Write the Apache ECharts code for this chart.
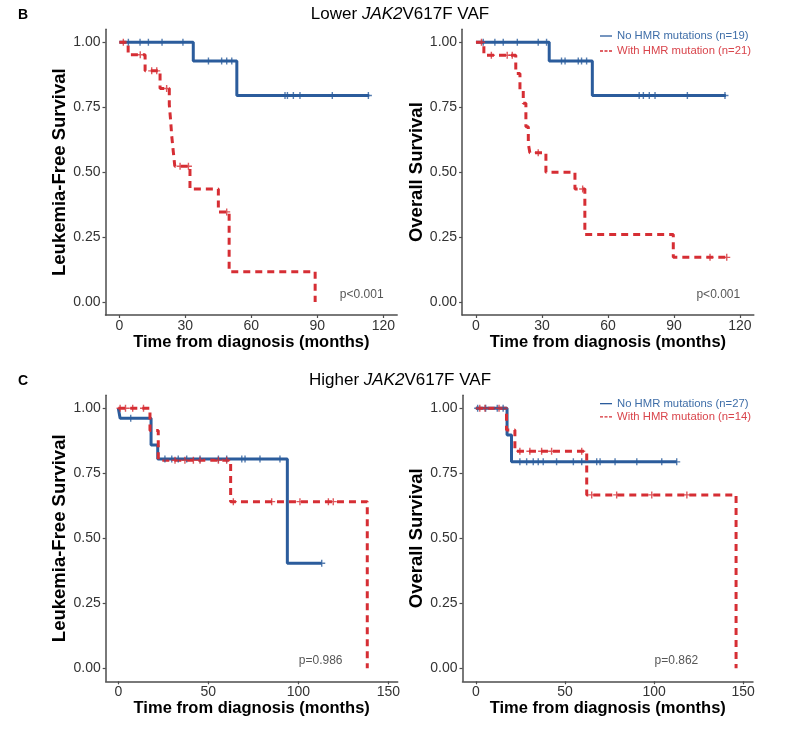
<!DOCTYPE html>
<html>
<head>
<meta charset="utf-8">
<script src="https://cdn.jsdelivr.net/npm/echarts@6/dist/echarts.min.js"></script>
<style>
html,body{margin:0;padding:0;background:#fff;}
#chart{width:800px;height:753px;}
</style>
</head>
<body>
<div id="chart"></div>
<script>
// ---------- data ----------
// Panel B (lower JAK2V617F VAF) – Leukemia-free survival
const bLfsNoTime = [0, 33.6, 53.4, 113.6];
const bLfsNoSurv = [1.0, 0.928, 0.795, 0.795];
const bLfsNoCens = [4.1, 9.4, 13.2, 19.4, 28.9, 40.5, 46.5, 48.8, 51.1, 75.3, 76.4, 79.1, 82.1, 96.8, 113.2];
const bLfsHmrTime = [0, 4.0, 11.7, 18.5, 22.7, 23.3, 23.8, 24.5, 25.2, 32.1, 45.0, 49.9, 89.0];
const bLfsHmrSurv = [1.0, 0.952, 0.89, 0.822, 0.76, 0.70, 0.64, 0.58, 0.523, 0.435, 0.347, 0.117, 0.0];
const bLfsHmrCens = [1.8, 9.5, 14.7, 17.0, 21.5, 27.6, 31.4, 48.8];
// Panel B – Overall survival
const bOsNoTime = [0, 33.3, 52.9, 113.6];
const bOsNoSurv = [1.0, 0.928, 0.795, 0.795];
const bOsNoCens = [3.3, 8.6, 12.4, 18.8, 28.3, 32.1, 38.9, 40.5, 46.5, 48.0, 50.3, 74.2, 76.1, 78.8, 81.4, 96.1, 113.2];
const bOsHmrTime = [0, 3.6, 18.1, 20.0, 21.5, 22.7, 23.8, 24.5, 31.8, 45.0, 49.5, 89.7, 114.0];
const bOsHmrSurv = [1.0, 0.95, 0.88, 0.815, 0.765, 0.675, 0.61, 0.575, 0.50, 0.435, 0.26, 0.172, 0.172];
const bOsHmrCens = [2.5, 7.0, 14.2, 16.5, 28.3, 48.5, 106.4, 114.0];
// Panel C (higher JAK2V617F VAF) – Leukemia-free survival
const cLfsNoTime = [0, 1.0, 18.2, 21.9, 93.9, 113.0];
const cLfsNoSurv = [1.0, 0.962, 0.859, 0.805, 0.404, 0.404];
const cLfsNoCens = [6.9, 25.9, 29.7, 33.3, 38.0, 45.4, 55.6, 60.2, 68.6, 70.4, 78.7, 89.8, 113.0];
const cLfsHmrTime = [0, 17.6, 22.2, 62.4, 138.3];
const cLfsHmrSurv = [1.0, 0.915, 0.80, 0.641, 0.0];
const cLfsHmrCens = [1.0, 4.0, 8.0, 14.0, 31.5, 37.0, 41.7, 45.4, 55.6, 60.2, 63.9, 85.2, 100.9, 116.7, 119.4];
// Panel C – Overall survival
const cOsNoTime = [0, 17.5, 20.0, 112.7];
const cOsNoSurv = [1.0, 0.897, 0.794, 0.794];
const cOsNoCens = [1.0, 5.5, 12.0, 15.3, 24.7, 28.5, 32.2, 35.0, 37.8, 45.3, 54.7, 59.4, 67.8, 69.7, 78.1, 90.3, 104.3, 112.7];
const cOsHmrTime = [0, 17.2, 21.9, 62.2, 146.0];
const cOsHmrSurv = [1.0, 0.917, 0.835, 0.667, 0.0];
const cOsHmrCens = [2.2, 5.1, 13.0, 24.7, 30.3, 36.9, 42.5, 59.4, 65.0, 79.0, 98.7, 118.4];

// tick labels
const yTicks = [0, 0.25, 0.5, 0.75, 1.0];
const xTicksB = [0, 30, 60, 90, 120];
const xTicksC = [0, 50, 100, 150];

// texts
const bNoLabel = 'No HMR mutations (n=19)';
const bHmrLabel = 'With HMR mutation (n=21)';
const cNoLabel = 'No HMR mutations (n=27)';
const cHmrLabel = 'With HMR mutation (n=14)';
const pTexts = ['p<0.001', 'p<0.001', 'p=0.986', 'p=0.862'];
const pPos = [100, 0.03];

// ---------- styling ----------
const FONT = '"Liberation Sans", Arial, Helvetica, sans-serif';
const BLUE = '#2b5c9c';
const RED = '#d62e34';
const AXIS = '#4d4d4d';
const DASH = [7, 5];
const PLUS = 'path://M2,0H3V2H5V3H3V5H2V3H0V2H2Z';
const ICON_SOLID = 'path://M0,0H12V1.3H0Z';
const ICON_DASH = 'path://M0,0H3V1.3H0Z M4.5,0H7.5V1.3H4.5Z M9,0H12V1.3H9Z';

const chart = echarts.init(document.getElementById('chart'), null, {renderer: 'canvas'});

const grids = [
  {left: 105.5, top: 29.3, width: 291.7, height: 285.7},
  {left: 462.1, top: 29.3, width: 291.7, height: 285.7},
  {left: 105.7, top: 395.3, width: 292, height: 286},
  {left: 462.5, top: 395.3, width: 290.5, height: 286}
];
const xRanges = [[-6.3, 126.3], [-6.3, 126.3], [-7, 155.2], [-7.5, 155.5]];
const xTickSets = [xTicksB, xTicksB, xTicksC, xTicksC];
const yNames = ['Leukemia-Free Survival', 'Overall Survival', 'Leukemia-Free Survival', 'Overall Survival'];

const xAxes = grids.map((g, i) => ({
  type: 'value', gridIndex: i, min: xRanges[i][0], max: xRanges[i][1],
  axisLine: {show: true, onZero: false, lineStyle: {color: AXIS, width: 1.5}},
  axisTick: {show: true, customValues: xTickSets[i], length: 3, lineStyle: {color: AXIS, width: 1.2}},
  axisLabel: {customValues: xTickSets[i], margin: 4, fontSize: 14, color: '#333', fontFamily: FONT},
  splitLine: {show: false},
  name: 'Time from diagnosis (months)', nameLocation: 'middle', nameGap: 14,
  nameTextStyle: {fontSize: 16.5, fontWeight: 'bold', color: '#000', fontFamily: FONT}
}));
const yAxes = grids.map((g, i) => ({
  type: 'value', gridIndex: i, min: -0.05, max: 1.05,
  axisLine: {show: true, onZero: false, lineStyle: {color: AXIS, width: 1.5}},
  axisTick: {show: true, customValues: yTicks, length: 3, lineStyle: {color: AXIS, width: 1.2}},
  axisLabel: {customValues: yTicks, margin: 5, fontSize: 14, color: '#333', fontFamily: FONT,
    formatter: v => v.toFixed(2)},
  splitLine: {show: false},
  name: yNames[i], nameLocation: 'middle', nameGap: 29,
  nameTextStyle: {fontSize: 18.5, fontWeight: 'bold', color: '#000', fontFamily: FONT}
}));

function zip(t, s) { return t.map((v, i) => [v, s[i]]); }
function survAt(t, times, surv) {
  let v = surv[0];
  for (let i = 0; i < times.length; i++) { if (times[i] <= t) v = surv[i]; }
  return v;
}
function curve(name, idx, times, surv, color, dashed) {
  return {
    type: 'line', name: name, xAxisIndex: idx, yAxisIndex: idx,
    data: zip(times, surv), step: 'end', symbol: 'none', showSymbol: false,
    lineStyle: {color: color, width: 3, type: dashed ? DASH : 'solid', cap: 'butt'},
    itemStyle: {color: color}, z: dashed ? 3 : 2, animation: false
  };
}
function censor(name, idx, cens, times, surv, color) {
  return {
    type: 'scatter', name: name, xAxisIndex: idx, yAxisIndex: idx,
    data: cens.map(t => [t, survAt(t, times, surv)]),
    symbol: PLUS, symbolSize: 7, itemStyle: {color: color}, z: 4, animation: false
  };
}
function pLabel(idx) {
  return {
    type: 'scatter', xAxisIndex: idx, yAxisIndex: idx, data: [pPos],
    symbolSize: 1, itemStyle: {color: 'rgba(0,0,0,0)'}, silent: true, animation: false, z: 5,
    label: {show: true, position: 'right', distance: 0, formatter: pTexts[idx],
      fontSize: 12, color: '#2b2b2b', fontFamily: FONT}
  };
}

const series = [
  curve(bNoLabel, 0, bLfsNoTime, bLfsNoSurv, BLUE, false),
  curve(bHmrLabel, 0, bLfsHmrTime, bLfsHmrSurv, RED, true),
  curve(bNoLabel, 1, bOsNoTime, bOsNoSurv, BLUE, false),
  curve(bHmrLabel, 1, bOsHmrTime, bOsHmrSurv, RED, true),
  curve(cNoLabel, 2, cLfsNoTime, cLfsNoSurv, BLUE, false),
  curve(cHmrLabel, 2, cLfsHmrTime, cLfsHmrSurv, RED, true),
  curve(cNoLabel, 3, cOsNoTime, cOsNoSurv, BLUE, false),
  curve(cHmrLabel, 3, cOsHmrTime, cOsHmrSurv, RED, true),
  censor(bNoLabel, 0, bLfsNoCens, bLfsNoTime, bLfsNoSurv, BLUE),
  censor(bHmrLabel, 0, bLfsHmrCens, bLfsHmrTime, bLfsHmrSurv, RED),
  censor(bNoLabel, 1, bOsNoCens, bOsNoTime, bOsNoSurv, BLUE),
  censor(bHmrLabel, 1, bOsHmrCens, bOsHmrTime, bOsHmrSurv, RED),
  censor(cNoLabel, 2, cLfsNoCens, cLfsNoTime, cLfsNoSurv, BLUE),
  censor(cHmrLabel, 2, cLfsHmrCens, cLfsHmrTime, cLfsHmrSurv, RED),
  censor(cNoLabel, 3, cOsNoCens, cOsNoTime, cOsNoSurv, BLUE),
  censor(cHmrLabel, 3, cOsHmrCens, cOsHmrTime, cOsHmrSurv, RED),
  pLabel(0), pLabel(1), pLabel(2), pLabel(3)
];

function legendItems(noLabel, hmrLabel) {
  return [
    {name: noLabel, icon: ICON_SOLID, itemStyle: {color: BLUE}, textStyle: {color: '#3f6ea8'}},
    {name: hmrLabel, icon: ICON_DASH, itemStyle: {color: RED}, textStyle: {color: '#d9454c'}}
  ];
}

const titleRich = {
  a: {fontSize: 17, color: '#000', fontFamily: FONT, fontWeight: 'normal'},
  b: {fontSize: 17, color: '#000', fontFamily: FONT, fontWeight: 'normal', fontStyle: 'italic'}
};

const option = {
  backgroundColor: '#fff',
  animation: false,
  textStyle: {fontFamily: FONT},
  title: [
    {text: 'B', left: 18, top: 8, padding: 0, textStyle: {fontSize: 14, fontWeight: 'bold', color: '#000', fontFamily: FONT}},
    {text: '{a|Lower }{b|JAK2}{a|V617F VAF}', left: 'center', top: 6, padding: 0,
      textStyle: {fontWeight: 'normal', rich: titleRich}},
    {text: 'C', left: 18, top: 374, padding: 0, textStyle: {fontSize: 14, fontWeight: 'bold', color: '#000', fontFamily: FONT}},
    {text: '{a|Higher }{b|JAK2}{a|V617F VAF}', left: 'center', top: 372, padding: 0,
      textStyle: {fontWeight: 'normal', rich: titleRich}}
  ],
  legend: [
    {data: legendItems(bNoLabel, bHmrLabel), orient: 'vertical', left: 600, top: 29, padding: 0,
      itemWidth: 12, itemHeight: 1.5, itemGap: 1, selectedMode: false,
      textStyle: {fontSize: 11.3, lineHeight: 14, fontFamily: FONT}},
    {data: legendItems(cNoLabel, cHmrLabel), orient: 'vertical', left: 600, top: 397, padding: 0,
      itemWidth: 12, itemHeight: 1.5, itemGap: 0, selectedMode: false,
      textStyle: {fontSize: 11.3, lineHeight: 13.3, fontFamily: FONT}}
  ],
  grid: grids,
  xAxis: xAxes,
  yAxis: yAxes,
  series: series
};
chart.setOption(option);
</script>
</body>
</html>
